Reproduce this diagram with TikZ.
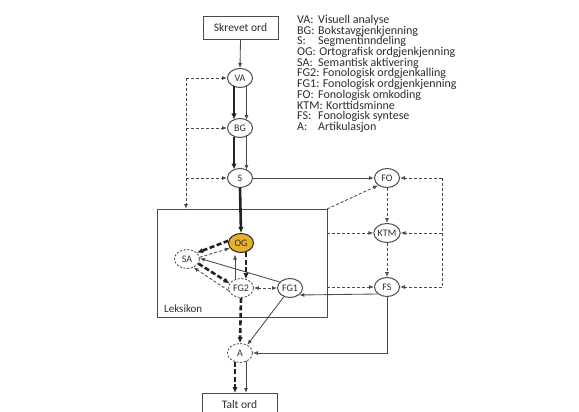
\documentclass[tikz,border=0pt]{standalone}
\usepackage{fontspec}
\setmainfont{Carlito}
\usetikzlibrary{arrows.meta,shapes.geometric,calc}
\definecolor{ln}{HTML}{4A4A4A}
\definecolor{dk}{HTML}{222222}
\definecolor{txt}{HTML}{2E2E2E}
\definecolor{ogfill}{HTML}{E8AE2E}
\begin{document}
\begin{tikzpicture}[x=1pt,y=-1pt,
  every node/.style={font=\fontsize{10}{11}\selectfont, text=txt},
  st/.style={draw=ln, line width=1pt, ellipse, minimum width=25pt, minimum height=19pt, inner sep=0pt},
  dst/.style={st, dash pattern=on 2.2pt off 1.5pt, line width=0.8pt},
  nbox/.style={draw=ln, line width=0.9pt, minimum width=75pt, minimum height=23pt, inner sep=0pt, font=\fontsize{11.5}{12}\selectfont},
  cthin/.style={draw=ln, line width=0.85pt, -{Latex[length=5pt,width=4pt]}},
  cthind/.style={cthin, dash pattern=on 3pt off 2pt},
  cthk/.style={draw=dk, line width=2.6pt, -{Latex[length=6pt,width=5.5pt]}},
  cthkd/.style={cthk, dash pattern=on 5pt off 2.5pt},
  leg/.style={anchor=base west, inner sep=0pt, font=\fontsize{12}{12}\selectfont},
]
\useasboundingbox[fill=white] (0,0) rectangle (579,412);

% boxes
\node[nbox] (skr) at (240.5,27.5) {Skrevet ord};
\node[nbox, anchor=north] (talt) at (239.5,393) {Talt ord};
\draw[draw=ln, line width=0.9pt] (157,209) rectangle (327,317);
\node[anchor=west, inner sep=0pt, font=\fontsize{11}{12}\selectfont] (lek) at (164,309) {Leksikon};

% nodes
\node[st] (VA) at (240,78) {VA};
\node[st] (BG) at (240,128) {BG};
\node[st] (S) at (240,178) {S};
\node[st] (FO) at (387,178) {FO};
\node[st] (KTM) at (387,233) {KTM};
\node[st] (FS) at (387,287) {FS};
\node[st, fill=ogfill, draw=dk] (OG) at (241,243) {OG};
\node[dst] (SA) at (187,259) {SA};
\node[dst] (FG2) at (241,288) {FG2};
\node[st] (FG1) at (290,288) {FG1};
\node[dst] (A) at (240,353) {A};

% coordinates
\coordinate (L0) at (186,78);
\coordinate (L1) at (186,209);
\coordinate (C0) at (327,209);
\coordinate (C1) at (327,233);
\coordinate (C2) at (327,287);
\coordinate (R0) at (442,178);
\coordinate (R1) at (442,233);
\coordinate (R2) at (442,287);
\coordinate (FSc) at (387,353);

% top chain
\draw[cthin] (skr.south) -- (VA.north);
\draw[cthk] ($(VA.south)+(-6,-1.5)$) -- ($(BG.north)+(-6,1.5)$);
\draw[cthin] ($(VA.south)+(6.5,-2)$) -- ($(BG.north)+(6.5,2)$);
\draw[cthk] ($(BG.south)+(-6,-1.5)$) -- ($(S.north)+(-6,1.5)$);
\draw[cthin] ($(BG.south)+(6.5,-2)$) -- ($(S.north)+(6.5,2)$);
\draw[cthk] (S.south) -- (OG.north);
\draw[cthin] (S.east) -- (FO.west);

% left dashed feedback
\draw[cthind] (L0) -- (L1);
\draw[cthind] (L0) -- (VA.west);
\draw[cthind] (L0 |- BG.west) -- (BG.west);
\draw[cthind] (L0 |- S.west) -- (S.west);

% right side
\draw[cthind] (C0) -- (FO.-140);
\draw[cthind] (C1) -- (KTM.west);
\draw[cthind] (C2) -- (FS.west);
\draw[cthind] (FO.south) -- (KTM.north);
\draw[cthind] (KTM.south) -- (FS.north);
\draw[draw=ln, line width=0.85pt, dash pattern=on 3pt off 2pt] (R0) -- (R2);
\draw[cthind] (R0) -- (FO.east);
\draw[cthind] (R1) -- (KTM.east);
\draw[cthind] (R2) -- (FS.east);
\draw[cthin] (FS.-143) -- (FG1.-37);
\draw[cthin] (FS.south) -- (FSc) -- (A.east);

% lexicon internals
\draw[cthkd] (OG.170) -- (SA.32);
\draw[cthind] (SA.8) -- (OG.205);
\draw[cthkd] (SA.-22) -- (FG2.158);
\draw[cthind] (FG2.192) -- (SA.-52);
\draw[cthin] (FG1.150) -- (SA.3);
\draw[cthin] ($(FG2.north)+(-6,1.5)$) -- ($(OG.south)+(-6,1.5)$);
\draw[cthkd] ($(OG.south)+(5,-1)$) -- ($(FG2.north)+(5,1)$);
\draw[cthind, {Latex[length=5pt,width=4pt]}-{Latex[length=5pt,width=4pt]}] (FG2.east) -- (FG1.west);
\draw[cthkd] (FG2.south) -- (A.north);
\draw[cthin] (FG1.-125) -- (A.48);

% output
\draw[cthkd] ($(A.south)+(-5,-1)$) -- ($(talt.north)+(-4.5,0)$);
\draw[cthin] ($(A.south)+(6,-2)$) -- ($(talt.north)+(6.5,0)$);

% legend
\foreach \ab/\de [count=\i] in {VA:/Visuell analyse, BG:/Bokstavgjenkjenning, S:/Segmentinndeling, OG:/Ortografisk ordgjenkjenning, SA:/Semantisk aktivering, FG2:/Fonologisk ordgjenkalling, FG1:/Fonologisk ordgjenkjenning, FO:/Fonologisk omkoding, KTM:/Korttidsminne, FS:/Fonologisk syntese, A:/Artikulasjon} {
  \node[leg] (la\i) at (297,{20+(\i-1)*10.7+3.5}) {\ab};
  \path let \p1=(la\i.base east) in
    node[leg] (ld\i) at ({max(318pt,\x1+3pt)},\y1) {\de};
}
\end{tikzpicture}
\end{document}
